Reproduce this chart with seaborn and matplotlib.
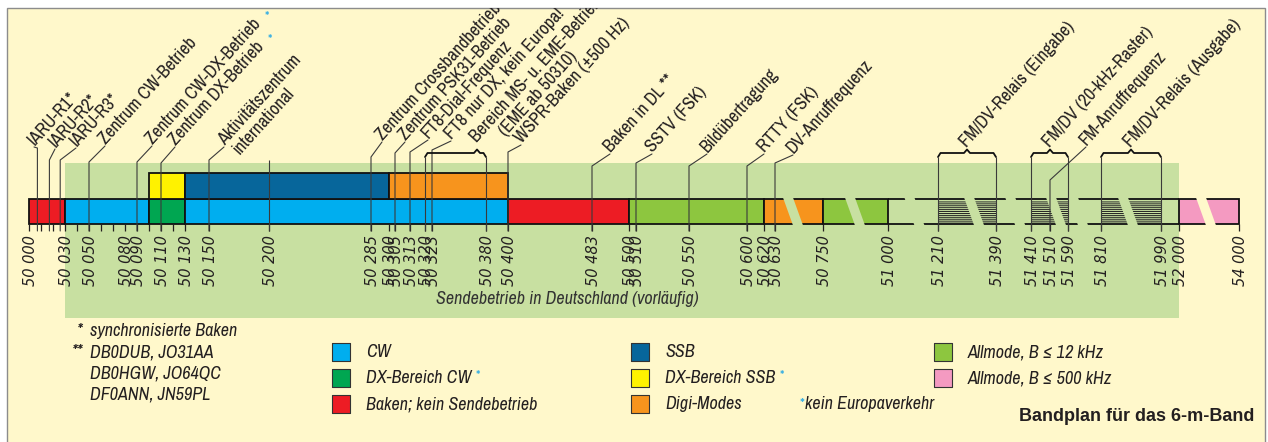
import numpy as np
import matplotlib
matplotlib.use("Agg")
import matplotlib.pyplot as plt
import seaborn as sns
from matplotlib.patches import Polygon, Rectangle

sns.set_theme(style="white")
plt.rcParams["font.family"] = ["Archivo Narrow", "Liberation Sans", "DejaVu Sans"]
plt.rcParams["hatch.linewidth"] = 0.75

# ---------------- Daten (kHz) ----------------
# Bandsegmente, Zeile "u" = untere Reihe, "o" = obere Reihe
seg_start = [50000, 50030, 50100, 50130, 50400, 50500, 50620, 50750, 52000,
             50100, 50130, 50300]
seg_end = [50030, 50100, 50130, 50400, 50500, 50620, 50750, 51000, 54000,
           50130, 50300, 50400]
seg_mode = ["bake", "cw", "dxcw", "cw", "bake", "all12", "digi", "all12", "all500",
            "dxssb", "ssb", "digi"]
seg_row = ["u"] * 9 + ["o"] * 3

# FM/DV-Kanalraster (schraffiert)
fm_start = [51210, 51410, 51810]
fm_end = [51390, 51590, 51990]

# Unterbrechungen der (nicht maßstäblichen) Darstellung
breaks_khz = [50675, 50873, 51111, 51322, 51401, 51537, 51657, 51891, 52900]

# Sendebetrieb in Deutschland
de_start, de_end = 50030, 52000

tick_major = [50000, 50030, 50050, 50080, 50090, 50110, 50130, 50150, 50200,
              50285, 50300, 50305, 50313, 50320, 50323, 50380, 50400, 50483,
              50500, 50510, 50550, 50600, 50620, 50630, 50750, 51000, 51210,
              51390, 51410, 51510, 51590, 51810, 51990, 52000, 54000]
tick_minor = [50010, 50020, 50040, 50060, 50070, 50100, 50120]

# Einzelmarken oben
mark_khz = [50007, 50017, 50026, 50050, 50090, 50110, 50150, 50285, 50305,
            50313, 50323, 50400, 50483, 50510, 50550, 50600, 50630, 51510]
mark_text = ["IARU-R1*", "IARU-R2*", "IARU-R3*", "Zentrum CW-Betrieb",
             "Zentrum CW-DX-Betrieb", "Zentrum DX-Betrieb", "Aktivitätszentrum",
             "Zentrum Crossbandbetrieb", "Zentrum PSK31-Betrieb", "FT8-Dial-Frequenz",
             "FT8 nur DX, kein Europa!", "WSPR-Baken (±500 Hz)", "Baken in DL **",
             "SSTV (FSK)", "Bildübertragung", "RTTY (FSK)", "DV-Anruffrequenz",
             "FM-Anruffrequenz"]
mark_line2 = [""] * 6 + ["international"] + [""] * 11
mark_star = [False] * 4 + [True, True] + [False] * 12
plain_lines = [50200]

# Bereiche mit Klammer
range_start = [50320, 51210, 51410, 51810]
range_end = [50380, 51390, 51590, 51990]
range_text = ["Bereich MS- u. EME-Betrieb", "FM/DV-Relais (Eingabe)",
              "FM/DV (20-kHz-Raster)", "FM/DV-Relais (Ausgabe)"]
range_line2 = ["(EME ab 50310)", "", "", ""]

# Legende
legend_mode = ["cw", "dxcw", "bake", "ssb", "dxssb", "digi", "all12", "all500"]
legend_text = ["CW", "DX-Bereich CW", "Baken; kein Sendebetrieb", "SSB",
               "DX-Bereich SSB", "Digi-Modes", "Allmode, B ≤ 12 kHz",
               "Allmode, B ≤ 500 kHz"]
legend_star = [False, True, False, False, True, False, False, False]

notes_sym = ["*", "**", "", ""]
notes_text = ["synchronisierte Baken", "DB0DUB, JO31AA", "DB0HGW, JO64QC",
              "DF0ANN, JN59PL"]

mode_colors = dict(zip(
    ["cw", "dxcw", "bake", "ssb", "dxssb", "digi", "all12", "all500"],
    sns.color_palette(["#00aeef", "#00a651", "#ed1c24", "#07669b",
                       "#fff200", "#f7941d", "#8dc63f", "#f49ac1"])))

CREAM = "#fff8cb"
ZONE = "#c8e0a1"
INK = "#231f20"
LINE = "#3a3a3a"
STAR = "#35aee3"

# ---------------- Layout ----------------
# Frequenzachse ist nicht maßstäblich: Stützstellen kHz -> Bildspalte
axis_khz = [49900, 50000, 50300, 50305, 50313, 50320, 50323, 50380, 50400, 50483,
            50500, 50510, 50550, 50600, 50620, 50630, 50750, 51000, 51210, 51390,
            51410, 51510, 51590, 51810, 51990, 52000, 54000, 56000]
axis_px = [-91, 29, 389, 395, 410, 425, 432, 486, 508, 592,
           629, 636, 689, 747, 764, 775, 823, 888, 938, 996,
           1031, 1050, 1068, 1101, 1161, 1179, 1239, 1299]


def to_px(f):
    return np.interp(f, axis_khz, axis_px)


def to_khz(p):
    return np.interp(p, axis_px, axis_khz)


row_y = {"u": (199, 224), "o": (173, 199)}
tick_y0, tick_y1 = 224, 231
FRAME_TOP = 8

mark_knee = [148, 160, 160, 162, 162, 163, 160, 157, 153, 152, 150, 152,
             166, 163, 166, 166, 163, 180]
mark_ax = [35, 56, 77, 106, 153, 176, 225, 383, 406, 429, 452, 522,
           611, 653, 708, 765, 794, 1087]
mark_ay = [146, 148, 147, 145, 145, 146, 146, 141, 141, 139, 140, 144,
           153, 153, 153, 153, 154, 146]
range_tip = [477, 967, 1050, 1131]
range_ay = [143, 148, 148, 148]
line2_indent = {"international": 3, "(EME ab 50310)": 24}

ROT = 48
FS_TOP = 13
FS_TXT = 13
ca, sa = np.cos(np.radians(ROT)), np.sin(np.radians(ROT))

fig = plt.figure(figsize=(12.68, 4.42), dpi=100, facecolor="white")
fig.patches.append(Rectangle((7 / 1268, -0.01), 1258 / 1268, 1.01 - FRAME_TOP / 442,
                             transform=fig.transFigure, facecolor=CREAM,
                             edgecolor="#8c8c8c", linewidth=1.0, zorder=-1))
# Achsen reichen bis zur oberen Rahmenkante, damit lange Texte dort abgeschnitten werden
ax = fig.add_axes([0, 0, 1, (442 - FRAME_TOP) / 442])
ax.set_xscale("function", functions=(to_px, to_khz))
ax.set_xlim(to_khz(0), to_khz(1268))
ax.set_ylim(442, FRAME_TOP)
ax.set_axis_off()

# Sendebetrieb in Deutschland
ax.barh(240.5, de_end - de_start, left=de_start, height=155, color=ZONE,
        linewidth=0, zorder=1)
ax.text(to_khz(567), 299, "Sendebetrieb in Deutschland (vorläufig)", ha="center",
        va="center", fontsize=FS_TXT, style="italic", color="#333333", zorder=6)

# Bandsegmente
for s, e, m, r in zip(seg_start, seg_end, seg_mode, seg_row):
    top, bot = row_y[r]
    ax.barh((top + bot) / 2, e - s, left=s, height=bot - top,
            color=mode_colors[m], edgecolor="#111111", linewidth=1.3, zorder=3)

# FM-Bereich: nur Rahmenlinien + Schraffur
ax.hlines(list(row_y["u"]), 51000, 52000, color="#111111", linewidth=1.3, zorder=3)
for s, e in zip(fm_start, fm_end):
    ax.barh(211.5, e - s, left=s, height=22, facecolor="none",
            edgecolor="#262626", hatch="-" * 8, linewidth=0, zorder=2.5)

# Unterbrechungen (schräge Lücken)
for b in breaks_khz:
    c = to_px(b)
    ys = np.array([196.0, 196.0, 227.0, 227.0])
    xl = c - 5 + 0.36 * (ys - 211.5)
    xs = xl + np.array([0, 10, 10, 0])
    bg = ZONE if de_start < b < de_end else CREAM
    ax.add_patch(Polygon(np.column_stack([to_khz(xs), ys]), closed=True,
                         facecolor=bg, edgecolor="none", zorder=3.5))

# Teilstriche und Beschriftung
ax.vlines(tick_major + tick_minor, tick_y0, tick_y1, color=INK, linewidth=0.9, zorder=4)
for v in tick_major:
    ax.text(to_khz(to_px(v) + 1.5), 235, f"{v:,}".replace(",", " "), rotation=90,
            ha="center", va="top", fontsize=10.5, family="DejaVu Sans",
            style="italic", color=INK, zorder=6)


def top_text(xp, yp, txt, line2="", star=False):
    t = ax.text(to_khz(xp), yp, txt, rotation=ROT, rotation_mode="anchor",
                ha="left", va="baseline", fontsize=FS_TOP, color=INK, zorder=6,
                clip_on=True)
    if star:
        ax.annotate("*", xy=(1, 1), xycoords=t, xytext=(0.5, -1),
                    textcoords="offset points", color=STAR, fontsize=10,
                    ha="left", va="center", zorder=6)
    if line2:
        ind = line2_indent.get(line2, 0)
        x2 = xp + 17 * sa + ind * ca
        y2 = yp + 17 * ca - ind * sa
        ax.text(to_khz(x2), y2, line2, rotation=ROT, rotation_mode="anchor",
                ha="left", va="baseline", fontsize=FS_TOP, color=INK, zorder=6,
                clip_on=True)
    return t


# Einzelmarken mit Hinweislinien
for f, txt, l2, st, kn, xp, yp in zip(mark_khz, mark_text, mark_line2, mark_star,
                                       mark_knee, mark_ax, mark_ay):
    ax.plot([f, f, to_khz(xp - 1)], [tick_y1, kn, yp + 1], color=LINE,
            linewidth=0.8, zorder=4)
    top_text(xp, yp, txt, l2, st)

ax.vlines(plain_lines, 160, tick_y1, color=LINE, linewidth=0.8, zorder=4)

# Bereiche mit geschweifter Klammer
for s, e, tip, txt, l2, yp in zip(range_start, range_end, range_tip, range_text,
                                  range_line2, range_ay):
    x1, x2 = to_px(s), to_px(e)
    xs = np.array([x1, x1 + 2.5, tip - 3, tip, tip + 3, x2 - 2.5, x2])
    ys = [157, 153, 153, 149.5, 153, 153, 157]
    ax.plot(to_khz(xs), ys, color="#111111", linewidth=1.3, zorder=4)
    ax.vlines([s, e], 157, tick_y1, color=LINE, linewidth=0.8, zorder=4)
    top_text(tip, yp, txt, l2)

# Fußnoten links
for i, (sym, txt) in enumerate(zip(notes_sym, notes_text)):
    y = 331 + 21 * i
    if sym:
        ax.text(to_khz(83), y, sym, ha="right", va="center", fontsize=FS_TXT,
                style="italic", color=INK)
    ax.text(to_khz(90), y, txt, ha="left", va="center", fontsize=FS_TXT,
            style="italic", color=INK)

# Legende
col_x = [332, 631, 934]
for i, (m, txt, st) in enumerate(zip(legend_mode, legend_text, legend_star)):
    cx, y = col_x[i // 3], 352 + 26 * (i % 3)
    ax.scatter([to_khz(cx + 9)], [y], marker="s", s=168, color=mode_colors[m],
               edgecolors="#333333", linewidths=0.8, zorder=5)
    t = ax.text(to_khz(cx + 34), y, txt, ha="left", va="center", fontsize=FS_TXT,
                style="italic", color=INK, zorder=6)
    if st:
        ax.annotate("*", xy=(1, 1), xycoords=t, xytext=(3, 1),
                    textcoords="offset points", color=STAR, fontsize=10,
                    ha="left", va="top", zorder=6)

ax.text(to_khz(804), 404, "*", ha="right", va="center", fontsize=11, color=STAR)
ax.text(to_khz(805), 404, "kein Europaverkehr", ha="left", va="center",
        fontsize=FS_TXT, style="italic", color=INK)

ax.text(to_khz(1254), 416, "Bandplan für das 6-m-Band", ha="right", va="center",
        fontsize=13, weight="bold", family="Liberation Sans", color=INK)

fig.savefig("out.png", dpi=100, facecolor="white")
